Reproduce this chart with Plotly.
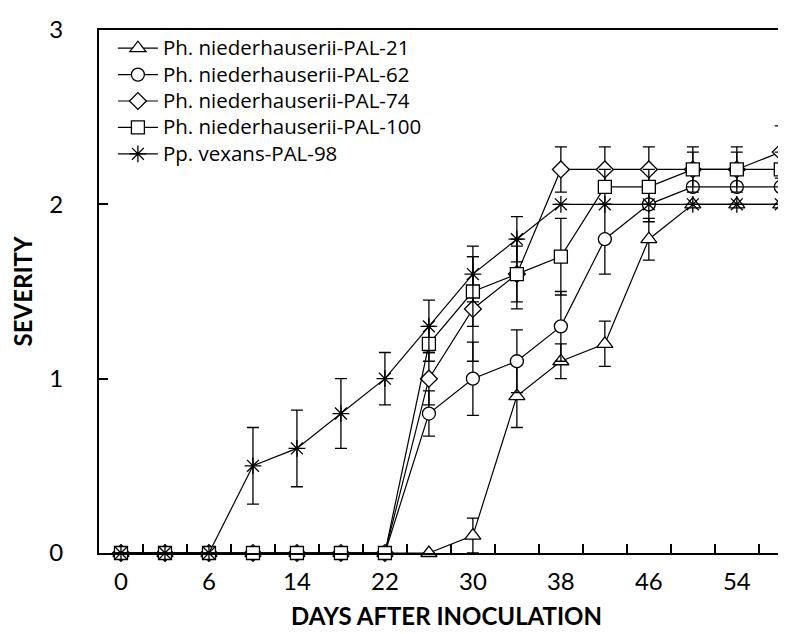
import plotly.graph_objects as go

days = [0, 3, 6, 10, 14, 18, 22, 26, 30, 34, 38, 42, 46, 50, 54, 58]
tick_labels = [str(d) for d in days[::2]]

names = ["Ph. niederhauserii-PAL-21", "Ph. niederhauserii-PAL-62",
         "Ph. niederhauserii-PAL-74", "Ph. niederhauserii-PAL-100",
         "Pp. vexans-PAL-98"]

pal21 = [0, 0, 0, 0, 0, 0, 0, 0, 0.1, 0.9, 1.1, 1.2, 1.8, 2.0, 2.0, 2.0]
pal21_err = [0, 0, 0, 0, 0, 0, 0, 0, 0.1, 0.18, 0.1, 0.13, 0.12, 0, 0, 0]

pal62 = [0, 0, 0, 0, 0, 0, 0, 0.8, 1.0, 1.1, 1.3, 1.8, 2.0, 2.1, 2.1, 2.1]
pal62_err = [0, 0, 0, 0, 0, 0, 0, 0.13, 0.21, 0.18, 0.2, 0.2, 0.1, 0, 0, 0]

pal74 = [0, 0, 0, 0, 0, 0, 0, 1.0, 1.4, 1.6, 2.2, 2.2, 2.2, 2.2, 2.2, 2.3]
pal74_err = [0, 0, 0, 0, 0, 0, 0, 0.15, 0.3, 0.2, 0.13, 0.13, 0.13, 0.13, 0.13, 0.15]

pal100 = [0, 0, 0, 0, 0, 0, 0, 1.2, 1.5, 1.6, 1.7, 2.1, 2.1, 2.2, 2.2, 2.2]
pal100_err = [0, 0, 0, 0, 0, 0, 0, 0.1, 0.2, 0.16, 0.22, 0.1, 0.1, 0.1, 0.1, 0.1]

pal98 = [0, 0, 0, 0.5, 0.6, 0.8, 1.0, 1.3, 1.6, 1.8, 2.0, 2.0, 2.0, 2.0, 2.0, 2.0]
pal98_err = [0, 0, 0, 0.22, 0.22, 0.2, 0.15, 0.15, 0.16, 0.13, 0, 0, 0, 0, 0, 0]

series = [pal21, pal62, pal74, pal100, pal98]
errors = [pal21_err, pal62_err, pal74_err, pal100_err, pal98_err]
symbols = ["triangle-up", "circle", "diamond", "square", "asterisk"]
sizes = [14, 13, 13, 13, 14]
xaxes = ["x", "x", "x", "x", "x2"]

FONT = "Lato"
LEG_FONT = "Open Sans"
idx = list(range(len(days)))

fig = go.Figure()
for name, ys, err, sym, sz, xa in zip(names, series, errors, symbols, sizes, xaxes):
    fig.add_trace(go.Scatter(
        x=idx, y=ys, name='<span style="font-size:20.5px">' + name + '</span>',
        mode="lines+markers", xaxis=xa, yaxis="y",
        line=dict(color="black", width=1.2),
        marker=dict(symbol=sym, size=sz, color="white",
                    line=dict(color="black", width=1.3)),
        error_y=dict(type="data", array=err, visible=True, color="black",
                     thickness=1.3, width=6),
        cliponaxis=False,
    ))

fig.update_layout(
    width=786, height=634,
    margin=dict(l=91, r=0, t=22, b=89),
    paper_bgcolor="white", plot_bgcolor="white",
    font=dict(family=FONT, color="black", size=24),
    showlegend=True,
    legend=dict(x=0.02, y=1.0, xanchor="left", yanchor="top",
                bgcolor="rgba(0,0,0,0)", font=dict(size=18, family=LEG_FONT),
                itemwidth=40, tracegroupgap=0),
    xaxis=dict(
        range=[-0.5, 15.3], showgrid=False, zeroline=False,
        showline=True, linecolor="black", linewidth=2, mirror=True,
        tickmode="array", tickvals=[i + 0.5 for i in idx[:-1]],
        ticks="inside", ticklen=9, tickcolor="black", tickwidth=1.5,
        showticklabels=False, automargin=False,
    ),
    xaxis2=dict(
        overlaying="x", matches="x", anchor="y", side="bottom",
        showgrid=False, zeroline=False, showline=False,
        tickmode="array", tickvals=idx[::2], ticktext=tick_labels,
        ticks="", ticklabelstandoff=12, automargin=False,
        tickfont=dict(size=24),
        title=dict(text="<b>DAYS AFTER INOCULATION</b>", font=dict(size=24), standoff=14),
    ),
    yaxis=dict(
        range=[0, 3], showgrid=False, zeroline=False,
        showline=True, linecolor="black", linewidth=2,
        tickmode="array", tickvals=[0, 1, 2, 3],
        ticks="inside", ticklen=9, tickcolor="black", tickwidth=1.5,
        ticklabelstandoff=29, automargin=False,
        tickfont=dict(size=24),
        title=dict(text="<b>SEVERITY</b>", font=dict(size=24), standoff=12),
    ),
)

fig.write_html("out.html")
